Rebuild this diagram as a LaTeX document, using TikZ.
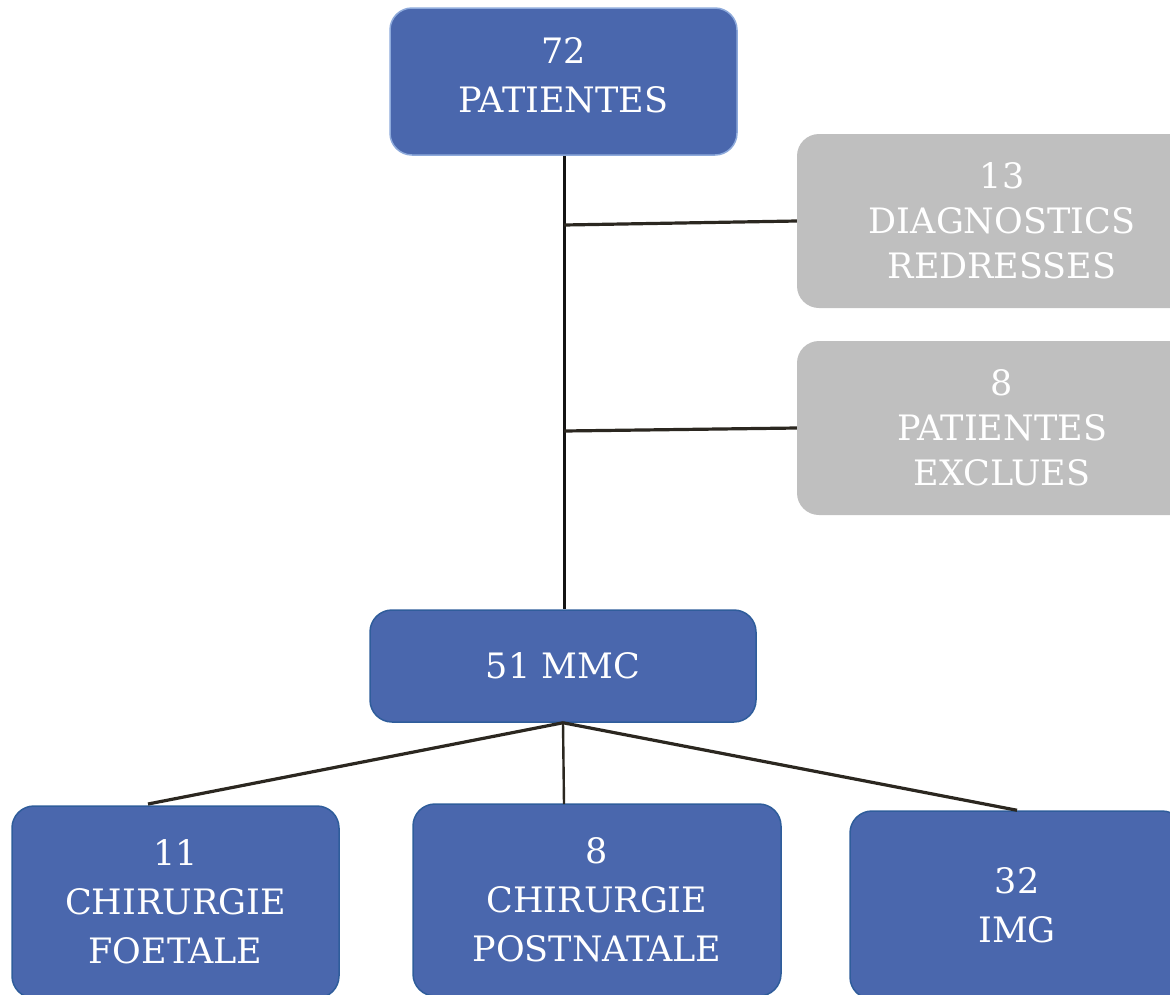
\documentclass[tikz,border=0pt]{standalone}
\usepackage{fontspec}
\setmainfont{DejaVu Serif}
\begin{document}
\begin{tikzpicture}
[x=1pt,y=-1pt,%
  blueBox/.style={shape=rectangle,rounded corners=22pt,fill=boxBlue,draw=edgeBlue,line width=1.5pt,text=white,align=center,font=\fontsize{35}{49}\selectfont},%
  greyBox/.style={shape=rectangle,rounded corners=22pt,fill=boxGrey,text=white,align=center,font=\fontsize{35}{45}\selectfont},%
  darkLine/.style={-,line width=3.2pt,color=lineDark}]
\definecolor{boxBlue}{HTML}{4A67AD}
\definecolor{edgeBlue}{HTML}{2F5D9B}
\definecolor{topEdge}{HTML}{8EAADB}
\definecolor{boxGrey}{HTML}{BFBFBF}
\definecolor{lineDark}{HTML}{2B2720}
\useasboundingbox (0,0) rectangle (1170,994);
\clip (0,0) rectangle (1170,994);
%% boxes
\node (patientes) at (563.5,81.5) [blueBox,draw=topEdge,minimum width=347pt,minimum height=147pt,text depth=12pt] {72\\PATIENTES};
\node (redresses) at (1002,221) [greyBox,minimum width=410pt,minimum height=174pt] {13\\DIAGNOSTICS\\REDRESSES};
\node (exclues) at (1002,428) [greyBox,minimum width=410pt,minimum height=174pt] {8\\PATIENTES\\EXCLUES};
\node (mmc) at (563,666) [blueBox,minimum width=386pt,minimum height=112pt] {51 MMC};
\node (foetale) at (175.5,902) [blueBox,minimum width=327pt,minimum height=192pt] {11\\CHIRURGIE\\FOETALE};
\node (postnatale) at (597,900) [blueBox,minimum width=368pt,minimum height=192pt] {8\\CHIRURGIE\\POSTNATALE};
\node (img) at (1017,905) [blueBox,minimum width=334pt,minimum height=188pt] {32\\IMG};
%% branch points
\coordinate (b1) at (564,225);
\coordinate (b2) at (564,431);
\coordinate (foetaleTop) at (148,804);
\coordinate (postnataleTop) at (564,804);
%% lines
\draw[line width=3pt,color=black!92] (patientes.south -| b1) -- (mmc.north -| b1);
\path
\foreach \startnode/\endnode in {b1/redresses.west, b2/exclues.west, mmc.south/foetaleTop, mmc.south/img.north}
{
  (\startnode) edge[darkLine] (\endnode)
};
\draw[darkLine,line width=2.4pt] (mmc.south) -- (postnataleTop);
\end{tikzpicture}
\end{document}
